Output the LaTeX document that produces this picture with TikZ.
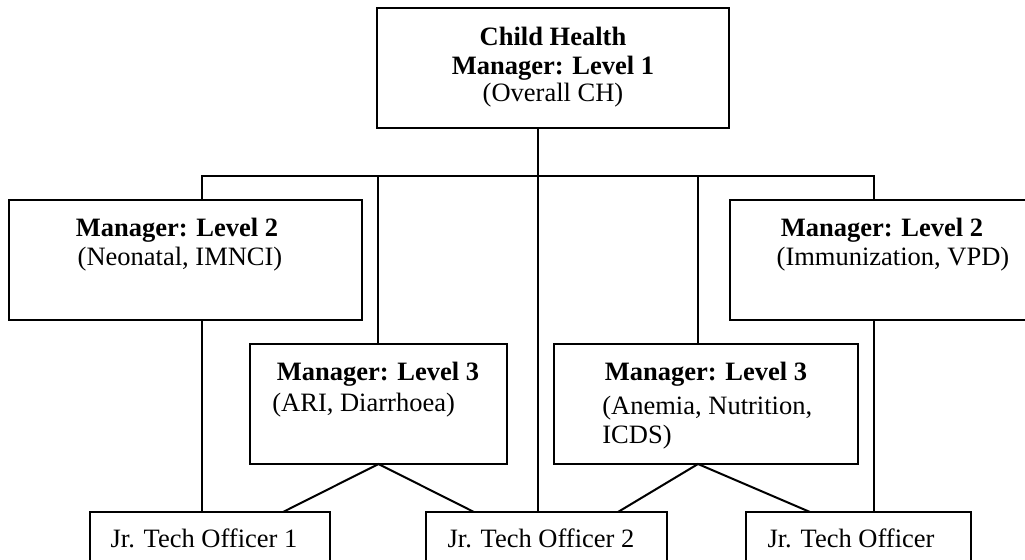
\documentclass[tikz,border=0pt]{standalone}
\usepackage{fontspec}
\setmainfont{Liberation Serif}
\begin{document}
\begin{tikzpicture}[x=0.5pt,y=-0.5pt,
  box/.style={draw, line width=1pt, inner sep=0pt, outer sep=0pt},
  txt/.style={inner sep=0pt, anchor=base, font=\fontsize{13.25}{14.5}\selectfont},
  ltxt/.style={inner sep=0pt, anchor=base west, font=\fontsize{13.25}{14.5}\selectfont},
  conn/.style={line width=1pt}]
\useasboundingbox (0,0) rectangle (1025,559);
% boxes
\node[box, minimum width=176pt, minimum height=60pt] (top) at (553,68) {};
\node[box, minimum width=176.5pt, minimum height=60pt] (L2L) at (185.5,260) {};
\node[box, minimum width=155pt, minimum height=60pt] (L2R) at (885,260) {};
\node[box, minimum width=128.5pt, minimum height=60pt] (L3L) at (378.5,404) {};
\node[box, minimum width=152pt, minimum height=60pt] (L3R) at (706,404) {};
\node[box, minimum width=120pt, minimum height=34pt] (J1) at (210,546) {};
\node[box, minimum width=120.5pt, minimum height=34pt] (J2) at (546.5,546) {};
\node[box, minimum width=112.5pt, minimum height=34pt] (J3) at (858.5,546) {};
% texts
\node[txt] (t1a) at (553,45) {\textbf{Child Health}};
\node[txt] (t1b) at (553,74) {\textbf{Manager: Level 1}};
\node[txt] (t1c) at (553,101) {(Overall CH)};
\node[txt] (t2a) at (177,236) {\textbf{Manager: Level 2}};
\node[txt] (t2b) at (180,265) {(Neonatal, IMNCI)};
\node[txt] (t3a) at (882,236) {\textbf{Manager: Level 2}};
\node[txt] (t3b) at (893,265) {(Immunization, VPD)};
\node[txt] (t4a) at (378,380) {\textbf{Manager: Level 3}};
\node[ltxt] (t4b) at (272,411) {(ARI, Diarrhoea)};
\node[txt] (t5a) at (706,380) {\textbf{Manager: Level 3}};
\node[ltxt] (t5b) at (602,414) {(Anemia, Nutrition,};
\node[ltxt] (t5c) at (602,443) {ICDS)};
\node[txt] (t6) at (204,547) {Jr. Tech Officer 1};
\node[txt] (t7) at (541,547) {Jr. Tech Officer 2};
\node[txt] (t8) at (851,547) {Jr. Tech Officer};
% connector coordinates
\coordinate (barL) at (202,176);
\coordinate (barR) at (874,176);
\coordinate (vA) at (378,176);
\coordinate (vC) at (538,176);
\coordinate (vB) at (698,176);
\coordinate (apexR) at (698,464);
\coordinate (j1r) at (283,512);
\coordinate (j2l) at (474,512);
\coordinate (j2r) at (618,512);
\coordinate (j3l) at (810,512);
% connectors
\draw[conn] (top.south -| vC) -- (J2.north -| vC);
\draw[conn] (L2L.north -| barL) -- (barL) -- (barR) -- (L2R.north -| barR);
\draw[conn] (vA) -- (L3L.north -| vA);
\draw[conn] (vB) -- (L3R.north -| vB);
\draw[conn] (L2L.south -| barL) -- (J1.north -| barL);
\draw[conn] (L2R.south -| barR) -- (J3.north -| barR);
\draw[conn] (j1r) -- (L3L.south) -- (j2l);
\draw[conn] (j2r) -- (apexR) -- (j3l);
\end{tikzpicture}
\end{document}
